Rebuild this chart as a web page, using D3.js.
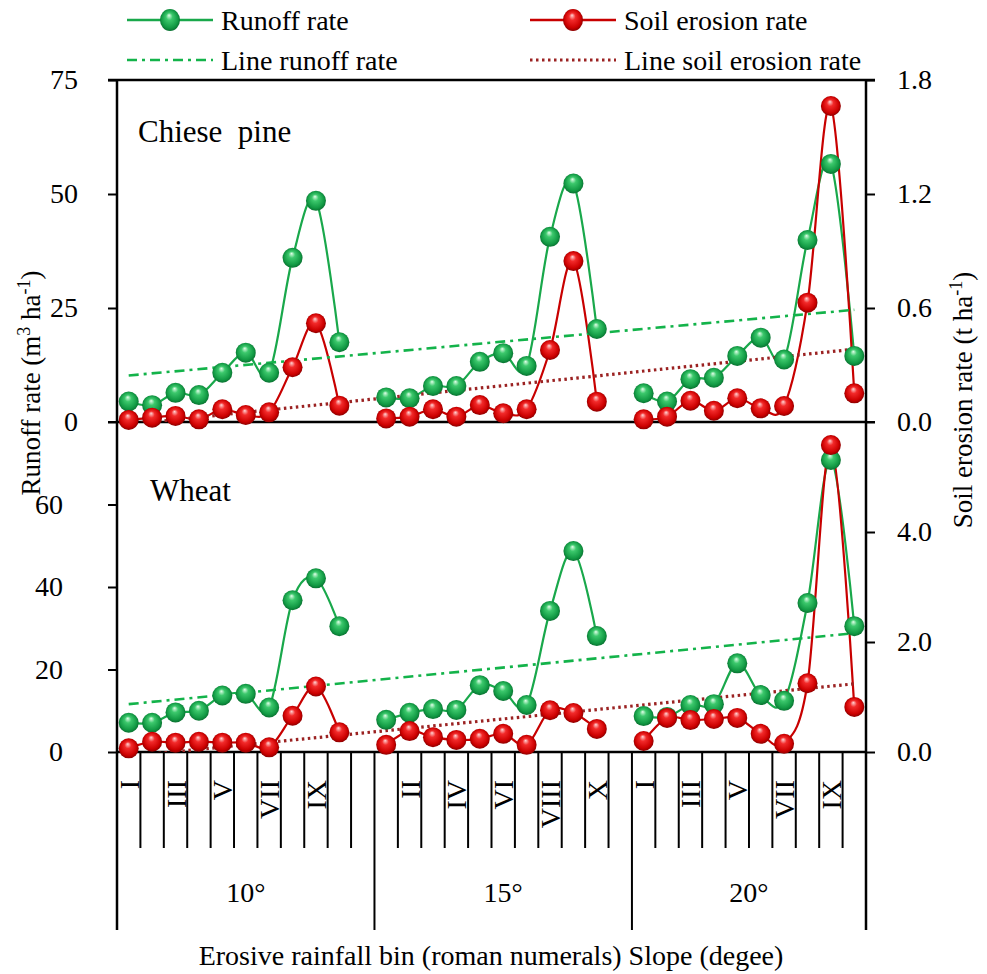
<!DOCTYPE html>
<html>
<head>
<meta charset="utf-8">
<script src="https://cdn.jsdelivr.net/npm/d3@7"></script>
<style>
  body { margin: 0; background: #fff; }
  text { font-family: "Liberation Serif", "Times New Roman", serif; fill: #000; }
</style>
</head>
<body>
<div id="container"></div>
<script>
/* DATA */
const slopes = ["10°", "15°", "20°"];
const bins = ["I", "II", "III", "IV", "V", "VI", "VII", "VIII", "IX", "X"];

// Chinese pine (10°, 15°, 20°, ten bins each)
const pineRunoff = [4.5, 3.7, 6.4, 5.9, 10.8, 15.2, 10.8, 36.0, 48.5, 17.5,
                    5.4, 5.2, 7.9, 7.9, 13.2, 15.1, 12.3, 40.6, 52.3, 20.4,
                    6.3, 4.5, 9.4, 9.7, 14.5, 18.5, 13.7, 39.9, 56.6, 14.5];
const pineErosion = [0.011, 0.023, 0.032, 0.014, 0.067, 0.037, 0.051, 0.288, 0.52, 0.086,
                     0.019, 0.028, 0.067, 0.028, 0.089, 0.046, 0.067, 0.379, 0.847, 0.107,
                     0.014, 0.028, 0.112, 0.059, 0.125, 0.072, 0.084, 0.628, 1.663, 0.151];
// Wheat
const wheatRunoff = [7.1, 7.1, 9.6, 10.0, 13.7, 14.1, 10.8, 36.8, 42.1, 30.5,
                     7.8, 9.5, 10.4, 10.2, 16.2, 14.8, 11.4, 34.2, 48.7, 28.1,
                     8.7, 8.5, 11.4, 11.6, 21.5, 13.8, 12.4, 36.1, 70.8, 30.5];
const wheatErosion = [0.067, 0.187, 0.17, 0.187, 0.17, 0.17, 0.085, 0.66, 1.19, 0.358,
                      0.13, 0.38, 0.27, 0.22, 0.24, 0.33, 0.13, 0.76, 0.71, 0.42,
                      0.2, 0.62, 0.58, 0.6, 0.62, 0.33, 0.15, 1.25, 5.58, 0.82];

// linear trend lines: value at first and at last point
const trendPineRunoff = [10.2, 24.6];
const trendPineErosion = [-0.013, 0.383];
const trendWheatRunoff = [11.6, 28.8];
const trendWheatErosion = [-0.08, 1.24];

// tick labels
const ticksPineL = [0, 25, 50, 75];
const ticksPineR = [0, 0.6, 1.2, 1.8];
const ticksWheatL = [0, 20, 40, 60];
const ticksWheatR = [0, 2, 4];

/* CONSTANTS */
const width = 987, height = 974;
const left = 117, right = 866;
const topY = 80, midY = 422, botY = 752;
const green = "#19a84b", red = "#c80000";

const svg = d3.select("#container").append("svg")
  .attr("width", width)
  .attr("height", height);

const defs = svg.append("defs");
function sphere(id, c0, c1, c2, c3) {
  const g = defs.append("radialGradient").attr("id", id)
    .attr("cx", "50%").attr("cy", "50%").attr("r", "55%")
    .attr("fx", "45%").attr("fy", "28%");
  g.append("stop").attr("offset", "0%").attr("stop-color", c0);
  g.append("stop").attr("offset", "30%").attr("stop-color", c1);
  g.append("stop").attr("offset", "75%").attr("stop-color", c2);
  g.append("stop").attr("offset", "100%").attr("stop-color", c3);
}
sphere("ballGreen", "#e2ffe9", "#3cc86c", "#129a44", "#07642b");
sphere("ballRed", "#ffd6d6", "#f22a2a", "#cc0000", "#760000");

/* SLOTS (category axis) */
const slots = [];
slopes.forEach((s, g) => {
  bins.forEach(b => slots.push({ key: s + b, bin: b, g }));
  if (g < slopes.length - 1) slots.push({ key: s + "_", bin: "", g });
});
const xScale = d3.scaleBand()
  .domain(slots.map(d => d.key))
  .range([left, right]);
const step = xScale.step();
const xc = k => xScale(k) + step / 2;

const pointKeys = [];
slopes.forEach(s => bins.forEach(b => pointKeys.push(s + b)));

/* PANELS */
const panels = [
  { name: "Chiese  pine", y0: midY, y1: topY, maxL: 75, maxR: 1.8, tL: ticksPineL, tR: ticksPineR,
    runoff: pineRunoff, erosion: pineErosion, trR: trendPineRunoff, trE: trendPineErosion,
    labelX: 138, labelY: 142, padL: 30 },
  { name: "Wheat", y0: botY, y1: midY, maxL: 80, maxR: 6, tL: ticksWheatL, tR: ticksWheatR,
    runoff: wheatRunoff, erosion: wheatErosion, trR: trendWheatRunoff, trE: trendWheatErosion,
    labelX: 150, labelY: 501, padL: 45 }
];

panels.forEach((p, pi) => {
  const yL = d3.scaleLinear().domain([0, p.maxL]).range([p.y0, p.y1]);
  const yR = d3.scaleLinear().domain([0, p.maxR]).range([p.y0, p.y1]);

  defs.append("clipPath").attr("id", "clip" + pi)
    .append("rect").attr("x", left).attr("y", p.y1)
    .attr("width", right - left).attr("height", p.y0 - p.y1);

  // axes
  const axL = svg.append("g")
    .attr("transform", `translate(${left},0)`)
    .call(d3.axisLeft(yL).tickValues(p.tL).tickSize(9).tickSizeOuter(0).tickPadding(p.padL).tickFormat(d3.format("d")));
  const axR = svg.append("g")
    .attr("transform", `translate(${right},0)`)
    .call(d3.axisRight(yR).tickValues(p.tR).tickSize(9).tickSizeOuter(0).tickPadding(22).tickFormat(d3.format(".1f")));
  [axL, axR].forEach(ax => {
    ax.select(".domain").remove();
    ax.selectAll("line").attr("stroke", "#000").attr("stroke-width", 2);
    ax.selectAll("text").attr("font-size", 28).style("font-family", "'Liberation Serif', serif");
  });
  if (pi === 1) {
    // ticks at the shared edge
    svg.append("line").attr("x1", left - 9).attr("x2", left).attr("y1", midY).attr("y2", midY)
      .attr("stroke", "#000").attr("stroke-width", 2);
    svg.append("line").attr("x1", right).attr("x2", right + 9).attr("y1", midY).attr("y2", midY)
      .attr("stroke", "#000").attr("stroke-width", 2);
  }

  // horizontal frame line at zero
  svg.append("line").attr("x1", left).attr("x2", right).attr("y1", p.y0).attr("y2", p.y0)
    .attr("stroke", "#000").attr("stroke-width", 2.5);

  // panel label
  svg.append("text").attr("x", p.labelX).attr("y", p.labelY)
    .attr("font-size", 31).style("white-space", "pre").text(p.name);

  const plot = svg.append("g").attr("clip-path", `url(#clip${pi})`);

  // series lines, one per slope
  const lineL = d3.line().x(d => xc(d.k)).y(d => yL(d.v)).curve(d3.curveCatmullRom.alpha(0));
  const lineR = d3.line().x(d => xc(d.k)).y(d => yR(d.v)).curve(d3.curveCatmullRom.alpha(0));
  const runPts = p.runoff.map((v, i) => ({ k: pointKeys[i], v }));
  const eroPts = p.erosion.map((v, i) => ({ k: pointKeys[i], v }));

  slopes.forEach((s, g) => {
    plot.append("path").datum(runPts.slice(g * 10, g * 10 + 10))
      .attr("d", lineL).attr("fill", "none").attr("stroke", green).attr("stroke-width", 2.2);
  });
  svg.append("g").selectAll("circle").data(runPts).join("circle")
    .attr("cx", d => xc(d.k)).attr("cy", d => yL(d.v)).attr("r", 10)
    .attr("fill", "url(#ballGreen)");

  slopes.forEach((s, g) => {
    plot.append("path").datum(eroPts.slice(g * 10, g * 10 + 10))
      .attr("d", lineR).attr("fill", "none").attr("stroke", red).attr("stroke-width", 2.2);
  });
  svg.append("g").selectAll("circle").data(eroPts).join("circle")
    .attr("cx", d => xc(d.k)).attr("cy", d => yR(d.v)).attr("r", 10)
    .attr("fill", "url(#ballRed)");

  // trend lines
  const first = pointKeys[0], last = pointKeys[pointKeys.length - 1];
  plot.append("path")
    .datum([{ k: first, v: p.trR[0] }, { k: last, v: p.trR[1] }])
    .attr("d", d3.line().x(d => xc(d.k)).y(d => yL(d.v)))
    .attr("stroke", "#13b34a").attr("stroke-width", 2.6)
    .attr("stroke-dasharray", "10,5,3,5").attr("fill", "none");
  plot.append("path")
    .datum([{ k: first, v: p.trE[0] }, { k: last, v: p.trE[1] }])
    .attr("d", d3.line().x(d => xc(d.k)).y(d => yR(d.v)))
    .attr("stroke", "#9b2222").attr("stroke-width", 3.2)
    .attr("stroke-dasharray", "2.5,3.5").attr("fill", "none");
});

// top frame line and verticals
svg.append("line").attr("x1", left - 9).attr("x2", right + 9).attr("y1", topY).attr("y2", topY)
  .attr("stroke", "#000").attr("stroke-width", 2.5);
[left, right].forEach(x => {
  svg.append("line").attr("x1", x).attr("x2", x).attr("y1", topY).attr("y2", 930)
    .attr("stroke", "#000").attr("stroke-width", 2.5);
});

/* CATEGORY AXIS (multi-level) */
slots.forEach((d, i) => {
  if (i === 0) return;
  const x = xScale(d.key);
  const isGroup = d.g !== slots[i - 1].g;
  svg.append("line").attr("x1", x).attr("x2", x)
    .attr("y1", botY).attr("y2", isGroup ? 930 : 848)
    .attr("stroke", "#000").attr("stroke-width", 2);
});

svg.append("g").selectAll("text")
  .data(slots.filter((d, i) => i % 2 === 0 && d.bin !== ""))
  .join("text")
  .attr("transform", d => `translate(${xc(d.key) + 10},780) rotate(-90)`)
  .attr("text-anchor", "end")
  .attr("font-size", 28)
  .text(d => d.bin);

slopes.forEach(s => {
  const keys = slots.filter(d => d.key.startsWith(s)).map(d => d.key);
  const x0 = xScale(keys[0]), x1 = xScale(keys[keys.length - 1]) + step;
  svg.append("text").attr("x", (x0 + x1) / 2).attr("y", 902)
    .attr("text-anchor", "middle").attr("font-size", 28).text(s);
});

/* AXIS TITLES */
svg.append("text").attr("x", 491).attr("y", 965)
  .attr("text-anchor", "middle").attr("font-size", 28)
  .text("Erosive rainfall bin (roman numerals) Slope (degee)");

const tL = svg.append("text")
  .attr("transform", "translate(40,383) rotate(-90)")
  .attr("text-anchor", "middle").attr("font-size", 27);
tL.append("tspan").text("Runoff rate (m");
tL.append("tspan").attr("font-size", 18).attr("dy", -10).text("3");
tL.append("tspan").attr("dy", 10).text(" ha");
tL.append("tspan").attr("font-size", 18).attr("dy", -10).text("-1");
tL.append("tspan").attr("dy", 10).text(")");

const tR = svg.append("text")
  .attr("transform", "translate(972,400) rotate(-90)")
  .attr("text-anchor", "middle").attr("font-size", 27);
tR.append("tspan").text("Soil erosion rate (t ha");
tR.append("tspan").attr("font-size", 18).attr("dy", -10).text("-1");
tR.append("tspan").attr("dy", 10).text(")");

/* LEGEND */
const legend = svg.append("g");
const legItems = [
  { x: 127, y: 20, color: green, ball: "ballGreen", dash: null, label: "Runoff rate" },
  { x: 530, y: 20, color: red, ball: "ballRed", dash: null, label: "Soil erosion rate" },
  { x: 127, y: 60, color: "#13b34a", ball: null, dash: "10,5,3,5", w: 2.6, label: "Line runoff rate" },
  { x: 530, y: 60, color: "#9b2222", ball: null, dash: "2.5,3.5", w: 3.2, label: "Line soil erosion rate" }
];
legItems.forEach(d => {
  legend.append("line").attr("x1", d.x).attr("x2", d.x + 86).attr("y1", d.y).attr("y2", d.y)
    .attr("stroke", d.color).attr("stroke-width", d.w || 2.4)
    .attr("stroke-dasharray", d.dash);
  if (d.ball) {
    legend.append("ellipse").attr("cx", d.x + 43).attr("cy", d.y).attr("rx", 10).attr("ry", 11)
      .attr("fill", `url(#${d.ball})`);
  }
  legend.append("text").attr("x", d.x + 94).attr("y", d.y + 10)
    .attr("font-size", 28).text(d.label);
});
</script>
</body>
</html>
